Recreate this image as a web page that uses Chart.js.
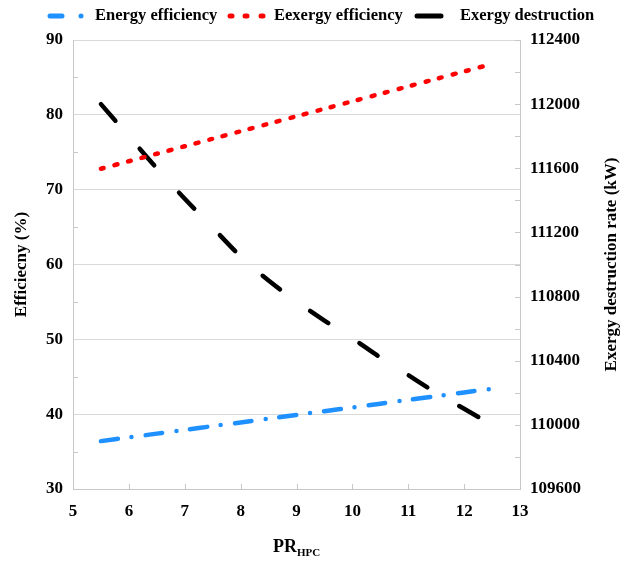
<!DOCTYPE html>
<html>
<head>
<meta charset="utf-8">
<script src="https://cdn.jsdelivr.net/npm/chart.js@4"></script>
<style>
  body { margin: 0; background: #fff; }
  #wrap { width: 628px; height: 561px; position: relative; }
</style>
</head>
<body>
<div id="wrap"><canvas id="prChart"></canvas></div>
<script>
// pressure ratio of the HPC
const prHpc = [5.5, 6, 6.5, 7, 7.5, 8, 8.5, 9, 9.5, 10, 10.5, 11, 11.5, 12, 12.5];
// values
const energyEff = [36.4, 36.9, 37.4, 37.9, 38.4, 38.9, 39.4, 39.9, 40.4, 40.9, 41.4, 41.9, 42.4, 42.9, 43.4];
const exergyEff = [72.8, 73.8, 74.8, 75.8, 76.8, 77.8, 78.8, 79.8, 80.8, 81.8, 82.8, 83.8, 84.8, 85.8, 86.8];
const exergyDest = [112000, 111800, 111600, 111410, 111230, 111050, 110900, 110770, 110650, 110540, 110420, 110310, 110200, 110100, 110000];
const leftTicks = [30, 40, 50, 60, 70, 80, 90];
const rightTicks = [109600, 110000, 110400, 110800, 111200, 111600, 112000, 112400];

const FONT = "'Liberation Serif', 'Times New Roman', serif";
const TICK_FONT = { family: FONT, size: 17, weight: 'bold' };
const toPts = (ys) => prHpc.map((x, i) => ({ x: x, y: ys[i] }));

// legend samples (x positions of dash/dot pieces) and label text
const legendItems = [
  { label: 'Energy efficiency', color: '#1e90ff', marks: [[50, 62], [81, 81]], textX: 95 },
  { label: 'Eexergy efficiency', color: '#ff0000', marks: [[230, 232], [245, 247], [261, 263]], textX: 274 },
  { label: 'Exergy destruction', color: '#000000', marks: [[417, 441]], textX: 460 }
];

// custom legend, axis titles and inner tick marks
const decor = {
  id: 'decor',
  afterDraw(chart) {
    const { ctx, chartArea } = chart;
    const midY = (chartArea.top + chartArea.bottom) / 2;
    ctx.save();

    // inner tick marks
    ctx.strokeStyle = '#c8c8c8';
    ctx.lineWidth = 1;
    const xs = chart.scales.x, ys = chart.scales.y, y2s = chart.scales.y2;
    ctx.beginPath();
    for (let v = 5; v <= 13; v++) {
      const px = Math.round(xs.getPixelForValue(v)) + 0.5;
      ctx.moveTo(px, chartArea.bottom);
      ctx.lineTo(px, chartArea.bottom - 5);
    }
    for (let v = 35; v < 90; v += 10) {
      const py = Math.round(ys.getPixelForValue(v)) + 0.5;
      ctx.moveTo(chartArea.left, py);
      ctx.lineTo(chartArea.left + 5, py);
    }
    for (let v = 109600; v <= 112400; v += 200) {
      const py = Math.round(y2s.getPixelForValue(v)) + 0.5;
      ctx.moveTo(chartArea.right, py);
      ctx.lineTo(chartArea.right - 5, py);
    }
    ctx.stroke();

    // legend
    ctx.fillStyle = '#000';
    ctx.textBaseline = 'middle';
    ctx.textAlign = 'left';
    ctx.font = 'bold 16.5px ' + FONT;
    legendItems.forEach(it => {
      ctx.strokeStyle = it.color;
      ctx.lineWidth = 5;
      ctx.lineCap = 'round';
      it.marks.forEach(m => {
        ctx.beginPath();
        ctx.moveTo(m[0], 16);
        ctx.lineTo(m[1] + 0.01, 16);
        ctx.stroke();
      });
      ctx.fillText(it.label, it.textX, 16);
    });

    // axis titles
    ctx.textAlign = 'center';
    ctx.font = 'bold 17px ' + FONT;
    ctx.save();
    ctx.translate(22, midY);
    ctx.rotate(-Math.PI / 2);
    ctx.fillText('Efficiecny (%)', 0, 0);
    ctx.restore();

    ctx.save();
    ctx.translate(612, midY);
    ctx.rotate(-Math.PI / 2);
    ctx.fillText('Exergy destruction rate (kW)', 0, 0);
    ctx.restore();

    // PR with HPC subscript
    const cx = (chartArea.left + chartArea.right) / 2;
    ctx.textAlign = 'left';
    ctx.font = 'bold 18px ' + FONT;
    const w1 = ctx.measureText('PR').width;
    ctx.font = 'bold 11px ' + FONT;
    const w2 = ctx.measureText('HPC').width;
    const x0 = cx - (w1 + w2) / 2;
    ctx.font = 'bold 18px ' + FONT;
    ctx.fillText('PR', x0, 547);
    ctx.font = 'bold 11px ' + FONT;
    ctx.fillText('HPC', x0 + w1, 553);
    ctx.restore();
  }
};

const ctx = document.getElementById('prChart').getContext('2d');

new Chart(ctx, {
  type: 'line',
  data: {
    datasets: [
      {
        label: 'Energy efficiency',
        data: toPts(energyEff),
        yAxisID: 'y',
        borderColor: '#1e90ff',
        borderWidth: 4.5,
        borderDash: [17, 14, 0, 14],
        borderCapStyle: 'round',
        pointRadius: 0,
        tension: 0.3
      },
      {
        label: 'Eexergy efficiency',
        data: toPts(exergyEff),
        yAxisID: 'y',
        borderColor: '#ff0000',
        borderWidth: 4.5,
        borderDash: [3, 11],
        borderCapStyle: 'round',
        pointRadius: 0,
        tension: 0.3
      },
      {
        label: 'Exergy destruction',
        data: toPts(exergyDest),
        yAxisID: 'y2',
        borderColor: '#000000',
        borderWidth: 4.5,
        borderDash: [22, 37],
        borderCapStyle: 'round',
        pointRadius: 0,
        cubicInterpolationMode: 'monotone'
      }
    ]
  },
  options: {
    responsive: true,
    maintainAspectRatio: false,
    animation: false,
    layout: { padding: { top: 40 } },
    plugins: {
      legend: { display: false },
      tooltip: { enabled: false },
      title: { display: false }
    },
    scales: {
      x: {
        type: 'linear',
        min: 5,
        max: 13,
        ticks: { stepSize: 1, color: '#000', padding: 12, font: TICK_FONT },
        grid: { drawOnChartArea: false, tickLength: 0 },
        border: { color: '#c8c8c8' },
        afterFit(scale) { scale.height = 72; }
      },
      y: {
        position: 'left',
        min: 30,
        max: 90,
        afterBuildTicks(scale) { scale.ticks = leftTicks.map(v => ({ value: v })); },
        ticks: { color: '#000', padding: 10, font: TICK_FONT },
        grid: { color: '#d9d9d9', tickLength: 0 },
        border: { color: '#c8c8c8' },
        afterFit(scale) { scale.width = 73; }
      },
      y2: {
        position: 'right',
        min: 109600,
        max: 112400,
        afterBuildTicks(scale) { scale.ticks = rightTicks.map(v => ({ value: v })); },
        ticks: {
          color: '#000', padding: 10, font: TICK_FONT,
          callback: (v) => String(v)
        },
        grid: { drawOnChartArea: false, tickLength: 0 },
        border: { color: '#c8c8c8' },
        afterFit(scale) { scale.width = 108; }
      }
    }
  },
  plugins: [decor]
});
</script>
</body>
</html>
